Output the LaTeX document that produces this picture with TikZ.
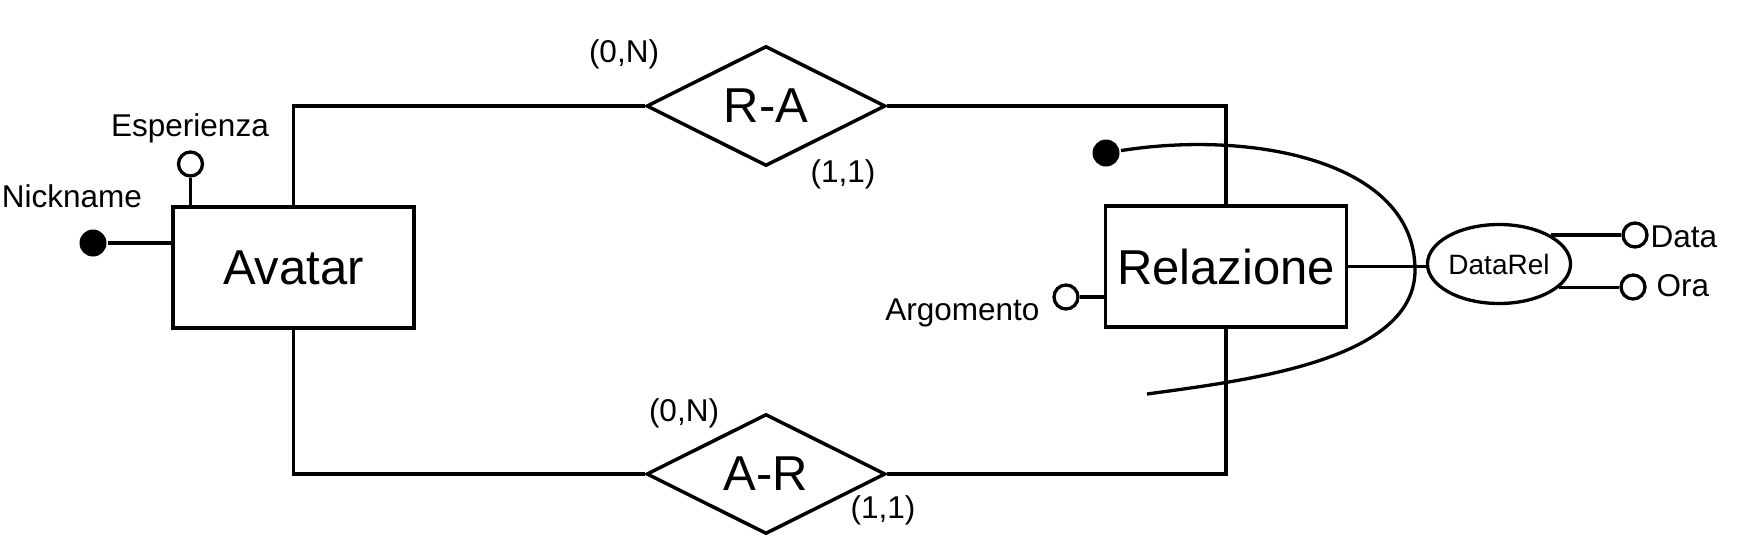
\documentclass[tikz,border=0pt]{standalone}
\usepackage{fontspec}
\setmainfont{Liberation Sans}
\usetikzlibrary{shapes.geometric}
\begin{document}
\begin{tikzpicture}[x=1pt,y=-1pt,
  line width=3.3pt,
  bigtxt/.style={font=\fontsize{49}{57}\selectfont},
  smalltxt/.style={font=\fontsize{31.5}{37}\selectfont, inner sep=0pt},
  entity/.style={draw, rectangle, line width=3.8pt, minimum width=241pt, minimum height=121pt, inner sep=0pt, bigtxt},
  relship/.style={draw, diamond, aspect=2, line width=3.5pt, minimum width=239pt, minimum height=120pt, inner sep=0pt, bigtxt},
  opencirc/.style={circle, draw, line width=3.3pt, fill=white, minimum size=24pt, inner sep=0pt},
  keydot/.style={circle, fill=black, minimum size=27pt, inner sep=0pt},
  compattr/.style={draw, ellipse, line width=3.3pt, minimum width=143pt, minimum height=79pt, inner sep=0pt, font=\fontsize{28}{33}\selectfont}
]
\useasboundingbox[fill=white] (0,0) rectangle (1748,536);

% entities
\node[entity] (avatar) at (293.5,267.5) {Avatar};
\node[entity] (rel) at (1226,266.5) {Relazione};

% relationships
\node[relship] (ra) at (766,106) {R-A};
\node[relship] (ar) at (766,474) {A-R};

% connectors
\draw (avatar.north) |- (ra.west);
\draw (ra.east) -| (rel.north);
\draw (avatar.south) |- (ar.west);
\draw (ar.east) -| (rel.south);

% cardinalities
\node[smalltxt, anchor=base] (c1) at (624,62) {(0,N)};
\node[smalltxt, anchor=base] (c2) at (843,182) {(1,1)};
\node[smalltxt, anchor=base] (c3) at (684,421) {(0,N)};
\node[smalltxt, anchor=base] (c4) at (883,518) {(1,1)};

% Avatar attributes
\node[keydot] (nickdot) at (93,243) {};
\draw (nickdot.east) -- (nickdot.east -| avatar.west);
\node[smalltxt, anchor=base] (nicklbl) at (72,207) {Nickname};

\node[opencirc] (espc) at (190.5,164) {};
\draw (espc.south) -- (espc.south |- avatar.north);
\node[smalltxt, anchor=base] (esplbl) at (190,136) {Esperienza};

% Relazione attributes
\node[opencirc] (argc) at (1066,297) {};
\draw (argc.east) -- (argc.east -| rel.west);
\node[smalltxt, anchor=base east] (arglbl) at (1041,320) {Argomento};

% composite attribute DataRel
\node[compattr] (datarel) at (1499,264) {DataRel};
\draw (rel.east) -- (rel.east -| datarel.west);
\node[opencirc] (datac) at (1635,235) {};
\node[opencirc] (orac) at (1633,287) {};
\draw (datarel.29) -- (datarel.29 -| datac.west);
\draw (datarel.-21.6) -- (datarel.-21.6 -| orac.west);
\node[smalltxt, anchor=base west] (datalbl) at (1649,247) {Data};
\node[smalltxt, anchor=base west] (oralbl) at (1655,296) {Ora};

% external identifier curve
\node[keydot] (reldot) at (1106,153) {};
\coordinate (cmid) at (1415,270);
\coordinate (cend) at (1147,394);
\draw (reldot) .. controls (1250,130) and (1415,160) .. (cmid)
      .. controls (1415,360) and (1250,380) .. (cend);
\end{tikzpicture}
\end{document}
